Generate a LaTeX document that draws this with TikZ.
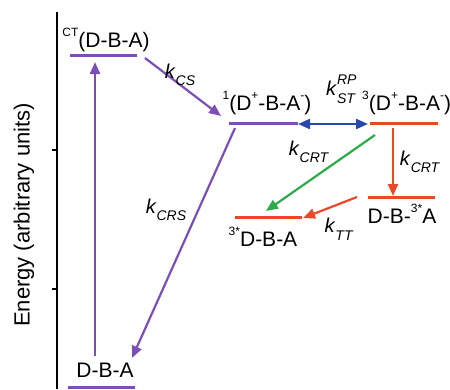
\documentclass[tikz,border=0pt]{standalone}
\usepackage{fontspec}
\setmainfont{Liberation Sans}
\usetikzlibrary{arrows.meta}
\definecolor{cpur}{RGB}{124,78,184}
\definecolor{cblu}{RGB}{40,72,172}
\definecolor{cgrn}{RGB}{44,172,72}
\definecolor{cred}{RGB}{234,72,40}
\newcommand\su[1]{\raisebox{0.55em}{\fontsize{12}{12}\selectfont #1}}
\newcommand\kk[1]{\textit{k}\raisebox{-0.38em}{\fontsize{14}{14}\selectfont\textit{#1}}}
\begin{document}
\begin{tikzpicture}[x=1pt,y=-1pt,
  lvl/.style={line width=3pt},
  arr/.style={line width=2.2pt,-{Triangle[length=12pt,width=10pt]}},
  darr/.style={line width=2.2pt,{Triangle[length=12pt,width=10pt]}-{Triangle[length=12pt,width=10pt]}},
  lab/.style={font=\fontsize{21}{24}\selectfont, inner sep=0pt},
  klab/.style={font=\fontsize{20}{22}\selectfont, inner sep=0pt}]
\useasboundingbox (0,0) rectangle (450,389);
% axis
\coordinate (axT) at (57,12);
\coordinate (axB) at (57,389);
\draw[line width=1.6pt] (axT) -- (axB);
\coordinate (t1a) at (52,150); \coordinate (t1b) at (57,150);
\coordinate (t2a) at (52,289); \coordinate (t2b) at (57,289);
\draw[line width=1.4pt] (t1a) -- (t1b);
\draw[line width=1.4pt] (t2a) -- (t2b);
\node[rotate=90, font=\fontsize{22}{26}\selectfont, inner sep=0pt] (elab) at (24,215) {Energy (arbitrary units)};
% levels
\coordinate (ctL) at (70,55); \coordinate (ctR) at (137,55);
\coordinate (gL) at (68,387); \coordinate (gR) at (135,387);
\coordinate (sL) at (229,123); \coordinate (sR) at (298,123);
\coordinate (tL) at (370,123); \coordinate (tR) at (438,123);
\coordinate (aL) at (368,197); \coordinate (aR) at (435,197);
\coordinate (dL) at (235,217); \coordinate (dR) at (302,217);
\draw[lvl,cpur] (ctL) -- (ctR);
\draw[lvl,cpur] (gL) -- (gR);
\draw[lvl,cpur] (sL) -- (sR);
\draw[lvl,cred] (tL) -- (tR);
\draw[lvl,cred] (aL) -- (aR);
\draw[lvl,cred] (dL) -- (dR);
% labels
\node[lab] (ctlab) at (106,40) {\su{CT}(D-B-A)};
\node[lab] (glab) at (105,370) {D-B-A};
\node[lab] (slab) at (267,103) {\su{1}(D\su{+}-B-A\su{-})};
\node[lab, anchor=west] (tlab) at (362,103) {\su{3}(D\su{+}-B-A\su{-})};
\node[lab] (alab) at (402,214) {D-B-\su{3*}A};
\node[lab] (dlab) at (263,237) {\su{3*}D-B-A};
% arrows
\coordinate (upS) at (95,356); \coordinate (upE) at (95,62);
\draw[arr,cpur] (upS) -- (upE);
\coordinate (csS) at (145,58); \coordinate (csE) at (221,116);
\draw[arr,cpur] (csS) -- (csE);
\coordinate (crsS) at (235,128); \coordinate (crsE) at (132,358);
\draw[arr,cpur] (crsS) -- (crsE);
\coordinate (stS) at (298,124); \coordinate (stE) at (368,124);
\draw[darr,cblu] (stS) -- (stE);
\coordinate (grS) at (375,135); \coordinate (grE) at (266,211);
\draw[arr,cgrn] (grS) -- (grE);
\coordinate (rvS) at (393,128); \coordinate (rvE) at (393,196);
\draw[arr,cred] (rvS) -- (rvE);
\coordinate (ttS) at (357,197); \coordinate (ttE) at (303,218);
\draw[arr,cred] (ttS) -- (ttE);
% rate labels
\node[klab] (kcs) at (180,75) {\kk{CS}};
\node[klab] (kcrs) at (166,210) {\kk{CRS}};
\node[klab] (kst) at (341,89) {\textit{k}\makebox[0pt][l]{\raisebox{0.55em}{\fontsize{14}{14}\selectfont\textit{RP}}}\raisebox{-0.38em}{\fontsize{14}{14}\selectfont\textit{ST}}};
\node[klab] (kcrt1) at (309,152) {\kk{CRT}};
\node[klab] (kcrt2) at (420,162) {\kk{CRT}};
\node[klab] (ktt) at (339,229) {\kk{TT}};
\end{tikzpicture}
\end{document}
